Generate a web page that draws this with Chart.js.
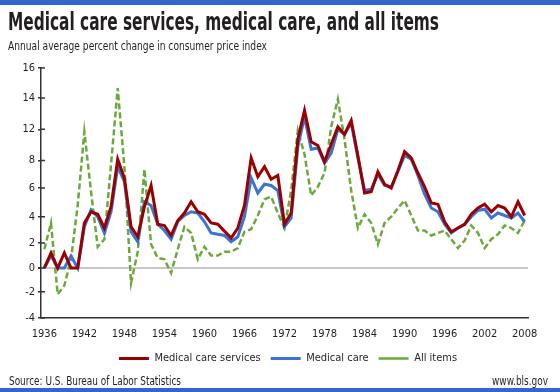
<!DOCTYPE html>
<html>
<head>
<meta charset="utf-8">
<script src="https://cdn.jsdelivr.net/npm/chart.js@4.4.0/dist/chart.umd.min.js"></script>
<style>
  html, body { margin: 0; padding: 0; background: #fff; }
  #wrap { position: relative; width: 560px; height: 392px; overflow: hidden;
          font-family: "Liberation Sans Narrow", "DejaVu Sans Condensed", sans-serif; color: #231f20; }
  .bar { position: absolute; left: 0; width: 560px; background: #3366cc; }
  .txt { position: absolute; white-space: nowrap; transform-origin: 0 0; line-height: 1; }
  #chart { position: absolute; left: 0; top: 0; }
</style>
</head>
<body>
<div id="wrap">
  <canvas id="chart" width="560" height="392"></canvas>
  <div class="bar" style="top:0;height:5px"></div>
  <div class="txt" id="title" style="left:8px;top:10px;font-size:24px;font-weight:bold">Medical care services, medical care, and all items</div>
  <div class="txt" id="subtitle" style="left:8px;top:40px;font-size:12.5px">Annual average percent change in consumer price index</div>
  <div class="txt" id="source" style="left:9px;top:375px;font-size:12.5px">Source: U.S. Bureau of Labor Statistics</div>
  <div class="txt" id="url" style="left:492px;top:375px;font-size:12.5px">www.bls.gov</div>
  <div class="bar" style="top:388px;height:4px"></div>
</div>
<script>
// years 1936 .. 2008
const firstYear = 1936;
const lastYear = 2008;

// annual average percent change
const servicesChange = [
  0, 1.2, 0, 1.2, 0, 0, 3.6, 4.5, 4.3, 3.2,         // 1936-1945
  4.9, 8.7, 7.2, 3.3, 2.5, 4.9, 6.6, 3.5, 3.4, 2.6,  // 1946-1955
  3.8, 4.4, 5.3, 4.5, 4.3, 3.6, 3.5, 2.95, 2.4, 3.2, // 1956-1965
  5.0, 8.8, 7.3, 8.1, 7.1, 7.4, 3.5, 4.4, 10.3, 12.6, // 1966-1975
  10.1, 9.8, 8.5, 9.9, 11.3, 10.7, 11.8, 9.0, 6.0, 6.1, // 1976-1985
  7.7, 6.7, 6.4, 7.8, 9.3, 8.8, 7.6, 6.5, 5.2, 5.1,  // 1986-1995
  3.7, 2.9, 3.2, 3.5, 4.3, 4.8, 5.1, 4.5, 5.0, 4.8,  // 1996-2005
  4.1, 5.3, 4.2                                      // 2006-2008
];
const medicalChange = [
  0, 1.0, 0, 0, 0.95, 0, 3.3, 4.65, 4.1, 2.8,
  4.5, 8.1, 6.9, 2.9, 2.1, 5.3, 5.0, 3.5, 3.0, 2.3,
  3.7, 4.2, 4.5, 4.4, 3.7, 2.8, 2.7, 2.6, 2.1, 2.5,
  4.1, 7.2, 6.0, 6.7, 6.6, 6.2, 3.3, 4.0, 9.7, 12.1,
  9.5, 9.6, 8.4, 9.2, 11.1, 10.7, 11.6, 8.8, 6.2, 6.3,
  7.5, 6.6, 6.5, 7.7, 9.0, 8.7, 7.4, 5.9, 4.8, 4.5,
  3.5, 2.8, 3.2, 3.5, 4.1, 4.6, 4.7, 4.0, 4.4, 4.2,
  4.0, 4.4, 3.7
];
const allItemsChange = [
  1.5, 3.6, -2.1, -1.4, 0.7, 5.0, 10.9, 6.1, 1.7, 2.3,
  8.3, 14.4, 8.1, -1.2, 1.3, 7.9, 1.9, 0.8, 0.7, -0.4,
  1.5, 3.3, 2.8, 0.7, 1.7, 1.0, 1.0, 1.3, 1.3, 1.6,
  2.9, 3.1, 4.2, 5.5, 5.7, 4.4, 3.2, 6.2, 11.0, 9.1,
  5.8, 6.5, 7.6, 11.3, 13.5, 10.3, 6.2, 3.2, 4.3, 3.6,
  1.9, 3.6, 4.1, 4.8, 5.4, 4.2, 3.0, 3.0, 2.6, 2.8,
  3.0, 2.3, 1.6, 2.2, 3.4, 2.8, 1.6, 2.3, 2.7, 3.4,
  3.2, 2.8, 3.8
];

const xTickYears = [1936, 1942, 1948, 1954, 1960, 1966, 1972, 1978, 1984, 1990, 1996, 2002, 2008];
// the original axis places its labels unevenly; these are where they sit
const yTickAt = [16, 13.6, 11.1, 8.6, 6.4, 4.1, 2.0, 0, -1.9, -4];
const yTickLabels = ['16', '14', '12', '8', '6', '4', '2', '0', '-2', '-4'];

function toPoints(values) {
    return values.map((v, i) => ({ x: firstYear + i, y: v }));
}

// squeeze html text to the width it has in the original
function fitWidth(id, width) {
    const el = document.getElementById(id);
    const w = el.getBoundingClientRect().width;
    el.style.transform = 'scaleX(' + (width / w) + ')';
}
fitWidth('title', 431);
fitWidth('subtitle', 259);
fitWidth('source', 172);
fitWidth('url', 56);

const fontFamily = '"Liberation Sans Narrow", "DejaVu Sans Condensed", sans-serif';
Chart.defaults.font.family = fontFamily;
Chart.defaults.color = '#231f20';

// short tick stubs on the inner side of the y axis
const innerTicks = {
    id: 'innerTicks',
    afterDraw(chart) {
        const ctx = chart.ctx;
        const y = chart.scales.y;
        ctx.save();
        ctx.strokeStyle = '#333';
        ctx.lineWidth = 1.5;
        y.ticks.forEach(t => {
            const py = y.getPixelForValue(t.value);
            ctx.beginPath();
            ctx.moveTo(chart.chartArea.left, py);
            ctx.lineTo(chart.chartArea.left + 4, py);
            ctx.stroke();
        });
        ctx.restore();
    }
};

// the legend in the original sits a little right of the plot centre
const legendShift = 24;
const moveLegend = {
    id: 'moveLegend',
    afterLayout(chart) {
        chart.legend.left += legendShift;
        chart.legend.right += legendShift;
    }
};

new Chart(document.getElementById('chart'), {
    type: 'line',
    data: {
        datasets: [
            {
                label: 'Medical care services',
                data: toPoints(servicesChange),
                borderColor: '#990000',
                backgroundColor: '#990000',
                borderWidth: 3,
                pointRadius: 0,
                tension: 0
            },
            {
                label: 'Medical care',
                data: toPoints(medicalChange),
                borderColor: '#3a74d8',
                backgroundColor: '#3a74d8',
                borderWidth: 3,
                pointRadius: 0,
                tension: 0
            },
            {
                label: 'All items',
                data: toPoints(allItemsChange),
                borderColor: '#6aaa3c',
                backgroundColor: '#6aaa3c',
                borderWidth: 2.5,
                borderDash: [6, 3],
                pointRadius: 0,
                tension: 0
            }
        ]
    },
    options: {
        responsive: false,
        animation: false,
        devicePixelRatio: 1,
        layout: { padding: { top: 68, left: 0, right: 32, bottom: 18 } },
        plugins: {
            legend: {
                position: 'bottom',
                labels: {
                    usePointStyle: true,
                    pointStyle: 'line',
                    pointStyleWidth: 30,
                    boxHeight: 11,
                    padding: 10,
                    color: '#231f20',
                    font: { size: 11 }
                }
            },
            tooltip: { enabled: false }
        },
        scales: {
            x: {
                type: 'linear',
                min: firstYear - 0.5,
                max: lastYear + 0.5,
                afterBuildTicks: scale => {
                    scale.ticks = xTickYears.map(v => ({ value: v }));
                },
                afterFit: scale => { scale.height = 25; },
                grid: { display: false, drawTicks: false },
                border: { color: '#333', width: 1.5 },
                ticks: {
                    padding: 10,
                    maxRotation: 0,
                    color: '#231f20',
                    font: { size: 11 },
                    callback: v => String(v)
                }
            },
            y: {
                min: -4,
                max: 16,
                afterBuildTicks: scale => {
                    scale.ticks = yTickAt.map(v => ({ value: v }));
                },
                afterFit: scale => { scale.width = 41; },
                grid: {
                    color: c => (c.tick && c.tick.value === 0) ? '#c8c8c8' : 'rgba(0,0,0,0)',
                    lineWidth: c => (c.tick && c.tick.value === 0) ? 2 : 1.5,
                    tickColor: '#333',
                    tickLength: 3
                },
                border: { color: '#333', width: 1.5 },
                ticks: {
                    padding: 3,
                    color: '#231f20',
                    font: { size: 11 },
                    callback: (v, i) => yTickLabels[i]
                }
            }
        }
    },
    plugins: [innerTicks, moveLegend]
});
</script>
</body>
</html>
